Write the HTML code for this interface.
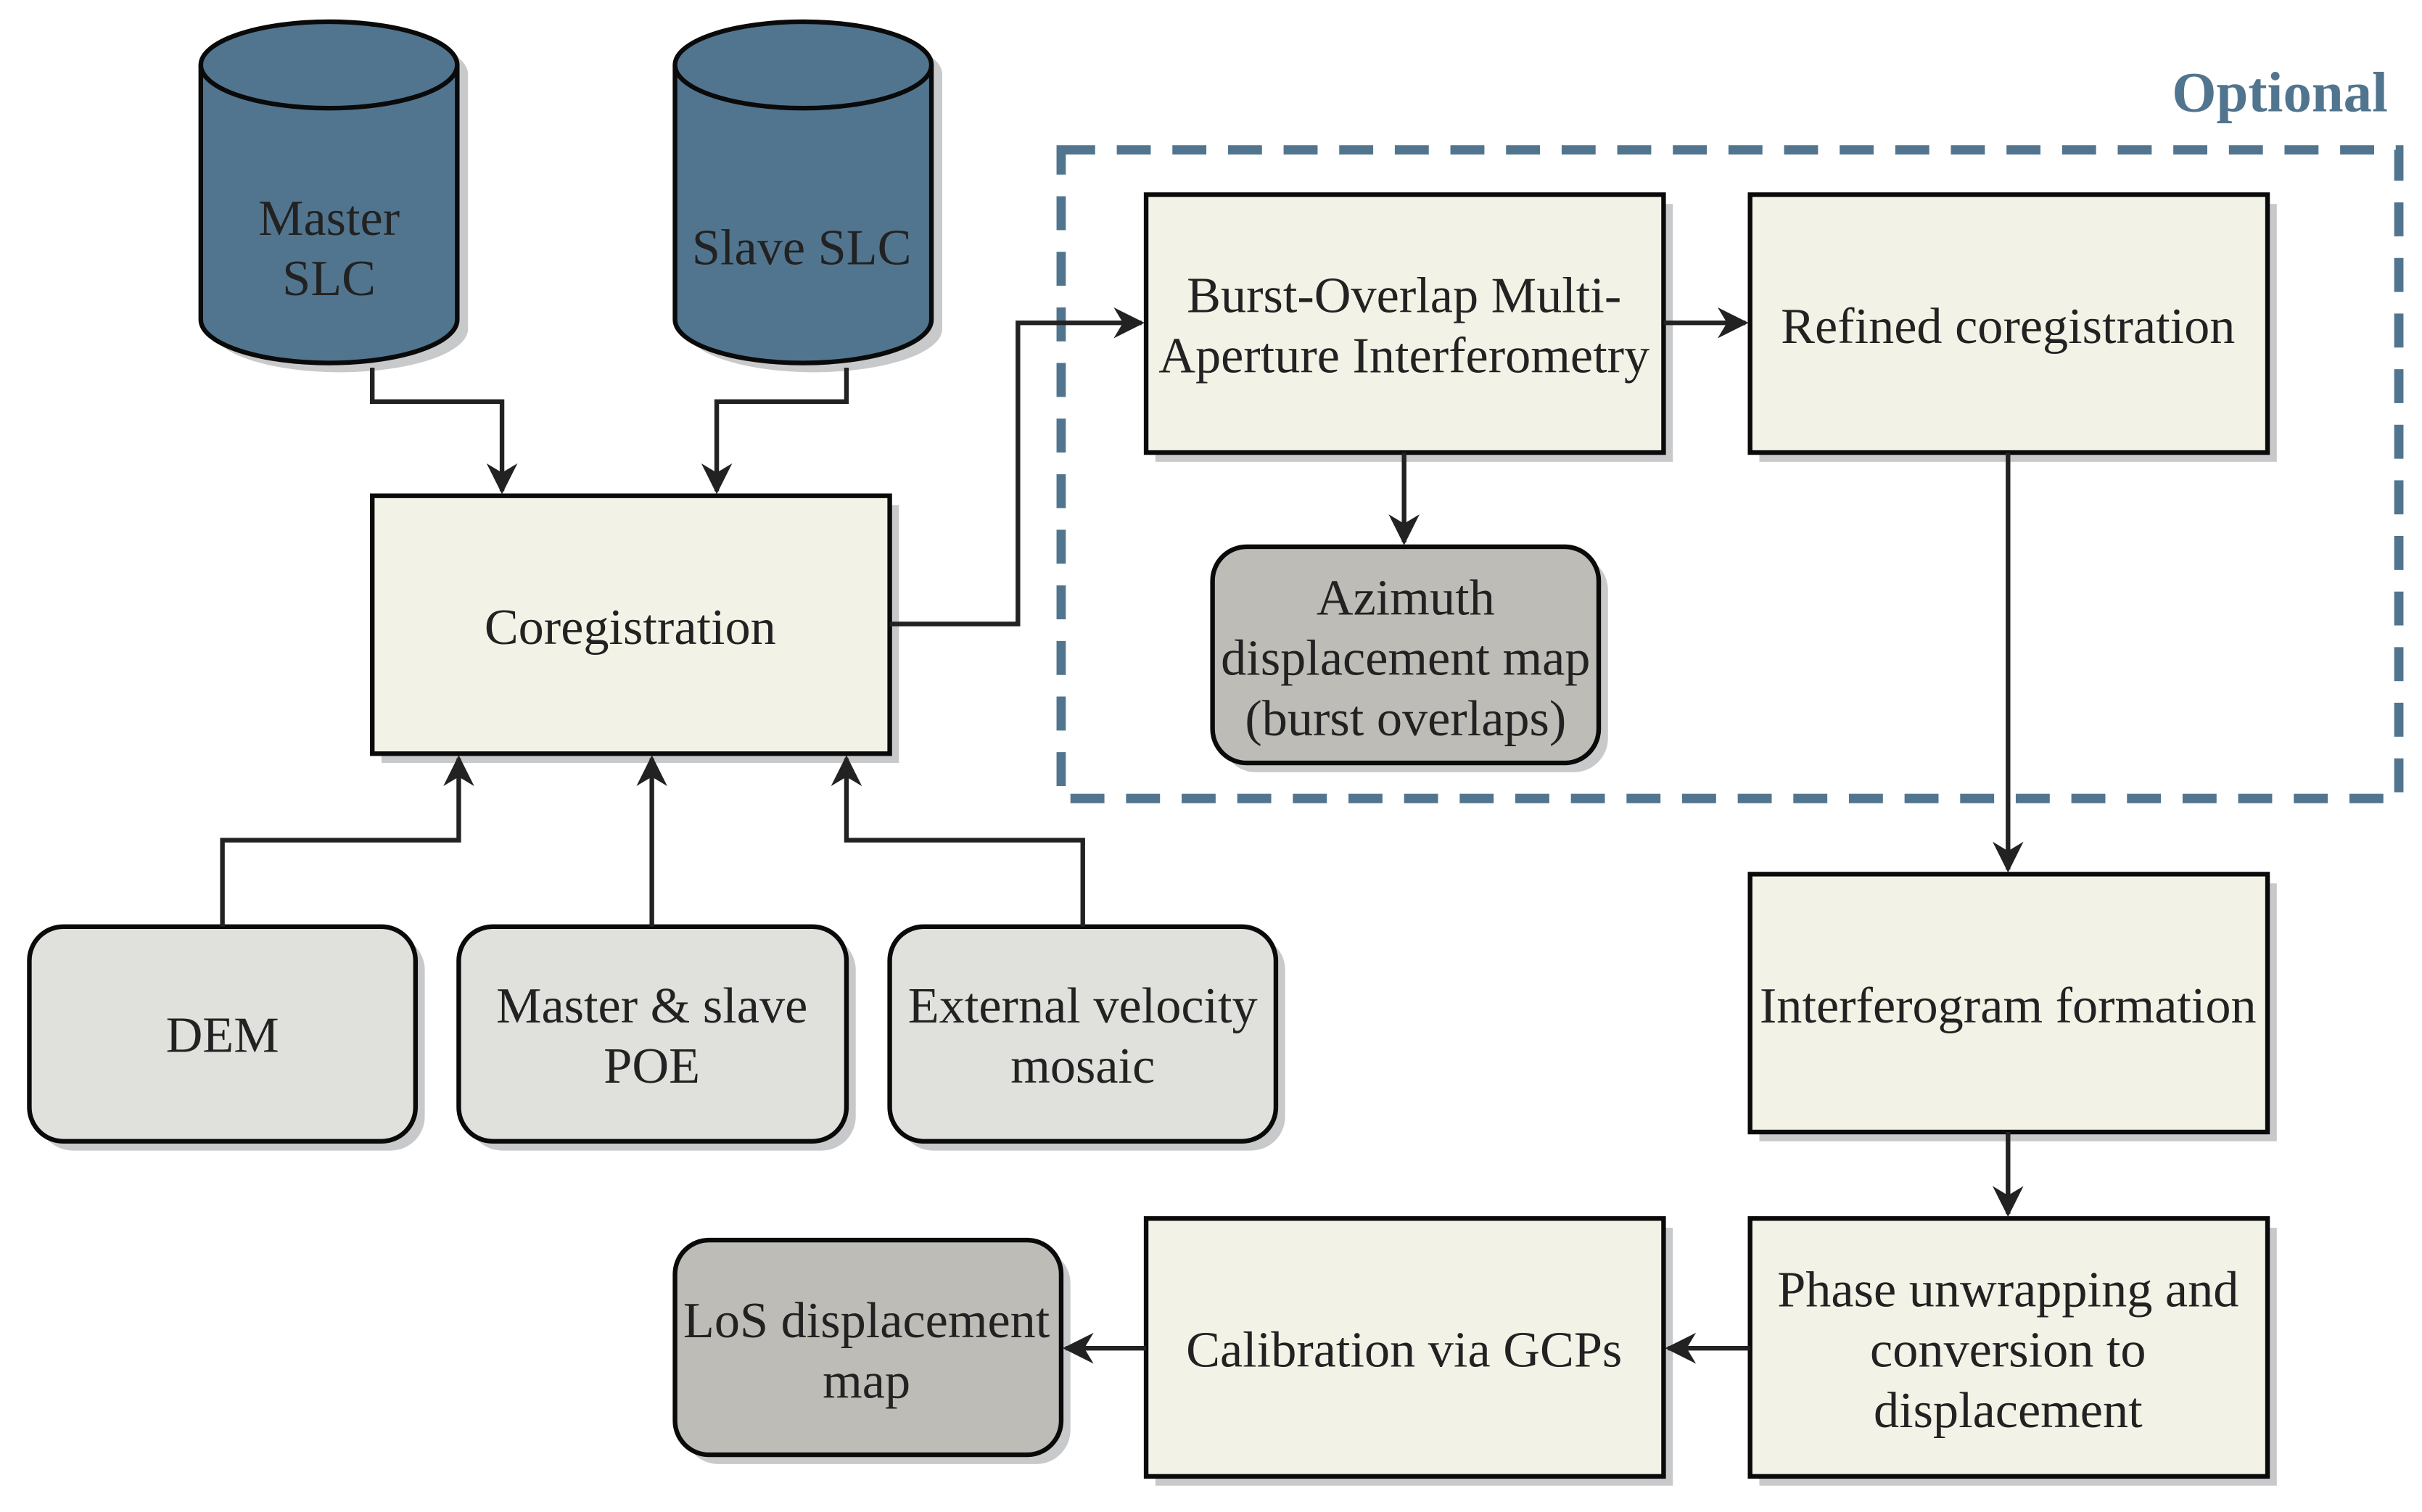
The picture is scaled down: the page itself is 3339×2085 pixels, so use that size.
<!DOCTYPE html>
<html><head><meta charset="utf-8"><style>html,body{margin:0;padding:0;background:#fff}svg{display:block}</style></head>
<body>
<svg width="3339" height="2085" viewBox="0 0 1568 979" xmlns="http://www.w3.org/2000/svg" font-family="'Liberation Serif',serif" font-size="33" fill="#222">
<defs>
<marker id="a" viewBox="0 0 10 10" refX="9" refY="5" markerWidth="22" markerHeight="20" markerUnits="userSpaceOnUse" orient="auto"><path d="M0,0 L10,5 L0,10 L3,5 z" fill="#222"/></marker>
</defs>
<rect width="1568" height="979" fill="#fff"/>
<g fill="#c8c9cb">
<path d="M137,48 a83,28 0 0 1 166,0 v165 a83,28 0 0 1 -166,0 z"/>
<path d="M444,48 a83,28 0 0 1 166,0 v165 a83,28 0 0 1 -166,0 z"/>
<rect x="247" y="327" width="335" height="167"/>
<rect x="748" y="132" width="335" height="167"/>
<rect x="1139" y="132" width="335" height="167"/>
<rect x="791" y="360" width="250" height="140" rx="22"/>
<rect x="25" y="606" width="250" height="139" rx="22"/>
<rect x="303" y="606" width="251" height="139" rx="22"/>
<rect x="582" y="606" width="250" height="139" rx="22"/>
<rect x="1139" y="572" width="335" height="167"/>
<rect x="1139" y="795" width="335" height="167"/>
<rect x="748" y="795" width="335" height="167"/>
<rect x="443" y="809" width="250" height="139" rx="22"/>
</g>
<g stroke="#0a0a0a" stroke-width="3">
<path d="M130,42 a83,28 0 0 1 166,0 v165 a83,28 0 0 1 -166,0 z" fill="#52758f"/>
<path d="M130,42 a83,28 0 0 0 166,0" fill="none"/>
<path d="M437,42 a83,28 0 0 1 166,0 v165 a83,28 0 0 1 -166,0 z" fill="#52758f"/>
<path d="M437,42 a83,28 0 0 0 166,0" fill="none"/>
<g fill="#f2f2e6">
<rect x="241" y="321" width="335" height="167"/>
<rect x="742" y="126" width="335" height="167"/>
<rect x="1133" y="126" width="335" height="167"/>
<rect x="1133" y="566" width="335" height="167"/>
<rect x="1133" y="789" width="335" height="167"/>
<rect x="742" y="789" width="335" height="167"/>
</g>
<g fill="#e0e0dc">
<rect x="19" y="600" width="250" height="139" rx="22"/>
<rect x="297" y="600" width="251" height="139" rx="22"/>
<rect x="576" y="600" width="250" height="139" rx="22"/>
</g>
<g fill="#bdbcb6">
<rect x="785" y="354" width="250" height="140" rx="22"/>
<rect x="437" y="803" width="250" height="139" rx="22"/>
</g>
</g>
<rect x="687" y="97" width="866" height="420" fill="none" stroke="#52758f" stroke-width="6" stroke-dasharray="22,14"/>
<text x="1476" y="72" text-anchor="middle" font-weight="bold" font-size="37" fill="#52758f">Optional</text>
<g fill="none" stroke="#222" stroke-width="3" marker-end="url(#a)">
<path d="M241,238 V260 H325 V318"/>
<path d="M548,238 V260 H464 V318"/>
<path d="M576,404 H659 V209 H739"/>
<path d="M1077,209 H1130"/>
<path d="M909,293 V351"/>
<path d="M1300,293 V563"/>
<path d="M1300,733 V786"/>
<path d="M1133,873 H1080"/>
<path d="M742,873 H690"/>
<path d="M144,600 V544 H297 V491"/>
<path d="M422,600 V491"/>
<path d="M701,600 V544 H548 V491"/>
</g>
<g text-anchor="middle">
<text x="213" y="152">Master</text><text x="213" y="191">SLC</text>
<text x="519" y="171">Slave SLC</text>
<text x="408" y="417">Coregistration</text>
<text x="909" y="202">Burst-Overlap Multi-</text><text x="909" y="241">Aperture Interferometry</text>
<text x="1300" y="222">Refined coregistration</text>
<text x="910" y="398">Azimuth</text><text x="910" y="437">displacement map</text><text x="910" y="476">(burst overlaps)</text>
<text x="144" y="681">DEM</text>
<text x="422" y="662">Master &amp; slave</text><text x="422" y="701">POE</text>
<text x="701" y="662">External velocity</text><text x="701" y="701">mosaic</text>
<text x="1300" y="662">Interferogram formation</text>
<text x="1300" y="846">Phase unwrapping and</text><text x="1300" y="885">conversion to</text><text x="1300" y="924">displacement</text>
<text x="909" y="885">Calibration via GCPs</text>
<text x="561" y="866">LoS displacement</text><text x="561" y="905">map</text>
</g>
</svg>
</body></html>
